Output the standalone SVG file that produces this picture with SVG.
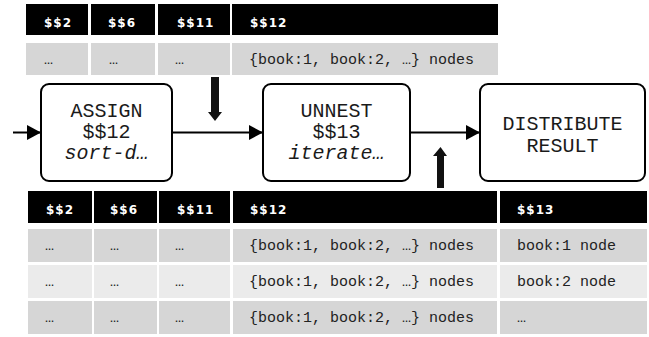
<svg xmlns="http://www.w3.org/2000/svg" width="649" height="337" viewBox="0 0 649 337">
  <style>
    .hd { fill: #000000; }
    .rowA { fill: #d6d6d6; }
    .rowB { fill: #ebebeb; }
    .hdt { font-family: "DejaVu Sans", Verdana, sans-serif; font-weight: bold; font-size: 12px; letter-spacing: 1px; fill: #ffffff; }
    .cell { font-family: "Liberation Mono", "Courier New", monospace; font-size: 15px; fill: #222222; }
    .box { fill: #ffffff; stroke: #000000; stroke-width: 2; }
    .lbl { font-family: "Liberation Mono", "Courier New", monospace; font-size: 20px; fill: #1a1a1a; text-anchor: middle; }
    .it { font-style: italic; }
    .edge { stroke: #000000; stroke-width: 2; fill: none; }
    .block { fill: #111111; }
  </style>
  <defs>
    <marker id="tri" viewBox="0 0 14 15" refX="14" refY="7.5" markerWidth="14" markerHeight="15" markerUnits="userSpaceOnUse" orient="auto">
      <path d="M0,0 L14,7.5 L0,15 Z" fill="#000000"/>
    </marker>
  </defs>

  <!-- upper table: columns before UNNEST -->
  <g id="table-top">
    <rect class="hd" x="26" y="4" width="62" height="31"/>
    <rect class="hd" x="91" y="4" width="64" height="31"/>
    <rect class="hd" x="158" y="4" width="72" height="31"/>
    <rect class="hd" x="232" y="4" width="266" height="31"/>
    <text class="hdt" x="44" y="27">$$2</text>
    <text class="hdt" x="108" y="27">$$6</text>
    <text class="hdt" x="177" y="27">$$11</text>
    <text class="hdt" x="250" y="27">$$12</text>

    <rect class="rowA" x="26" y="43" width="62" height="32"/>
    <rect class="rowA" x="91" y="43" width="64" height="32"/>
    <rect class="rowA" x="158" y="43" width="72" height="32"/>
    <rect class="rowA" x="232" y="43" width="266" height="32"/>
    <text class="cell" x="44" y="64">…</text>
    <text class="cell" x="109" y="64">…</text>
    <text class="cell" x="175" y="64">…</text>
    <text class="cell" x="249" y="64">{book:1, book:2, …} nodes</text>
  </g>

  <!-- operator nodes -->
  <g id="node-assign">
    <rect class="box" x="41" y="84" width="131" height="97" rx="8"/>
    <text class="lbl" x="106.5" y="117">ASSIGN</text>
    <text class="lbl" x="106.5" y="138">$$12</text>
    <text class="lbl it" x="106.5" y="159">sort-d…</text>
  </g>
  <g id="node-unnest">
    <rect class="box" x="263" y="84" width="147" height="97" rx="8"/>
    <text class="lbl" x="336.5" y="117">UNNEST</text>
    <text class="lbl" x="336.5" y="138">$$13</text>
    <text class="lbl it" x="336.5" y="159">iterate…</text>
  </g>
  <g id="node-distribute">
    <rect class="box" x="480" y="84" width="165" height="97" rx="8"/>
    <text class="lbl" x="562.5" y="130">DISTRIBUTE</text>
    <text class="lbl" x="562.5" y="152">RESULT</text>
  </g>

  <!-- connectors -->
  <g id="connectors">
    <line class="edge" x1="13" y1="132.5" x2="41" y2="132.5" marker-end="url(#tri)"/>
    <line class="edge" x1="172" y1="132.5" x2="263" y2="132.5" marker-end="url(#tri)"/>
    <line class="edge" x1="410" y1="132.5" x2="480" y2="132.5" marker-end="url(#tri)"/>
    <!-- data flow markers between tables and plan -->
    <path class="block" d="M211,77 H219 V112 H222 L215,121 L208,112 H211 Z"/>
    <path class="block" d="M437,188 H444 V156 H447 L440.5,147 L433,156 H437 Z"/>
  </g>

  <!-- lower table: columns after UNNEST -->
  <g id="table-bottom">
    <rect class="hd" x="28" y="191" width="64" height="32"/>
    <rect class="hd" x="94" y="191" width="63" height="32"/>
    <rect class="hd" x="159" y="191" width="71" height="32"/>
    <rect class="hd" x="233" y="191" width="264" height="32"/>
    <rect class="hd" x="500" y="191" width="147" height="32"/>
    <text class="hdt" x="46" y="214">$$2</text>
    <text class="hdt" x="110" y="214">$$6</text>
    <text class="hdt" x="177" y="214">$$11</text>
    <text class="hdt" x="250" y="214">$$12</text>
    <text class="hdt" x="517" y="214">$$13</text>

    <rect class="rowA" x="28" y="229" width="64" height="33"/>
    <rect class="rowA" x="94" y="229" width="63" height="33"/>
    <rect class="rowA" x="159" y="229" width="71" height="33"/>
    <rect class="rowA" x="233" y="229" width="264" height="33"/>
    <rect class="rowA" x="500" y="229" width="147" height="33"/>
    <text class="cell" x="45" y="250">…</text>
    <text class="cell" x="110" y="250">…</text>
    <text class="cell" x="175" y="250">…</text>
    <text class="cell" x="249" y="250">{book:1, book:2, …} nodes</text>
    <text class="cell" x="517" y="250">book:1 node</text>

    <rect class="rowB" x="28" y="265" width="64" height="33"/>
    <rect class="rowB" x="94" y="265" width="63" height="33"/>
    <rect class="rowB" x="159" y="265" width="71" height="33"/>
    <rect class="rowB" x="233" y="265" width="264" height="33"/>
    <rect class="rowB" x="500" y="265" width="147" height="33"/>
    <text class="cell" x="45" y="286">…</text>
    <text class="cell" x="110" y="286">…</text>
    <text class="cell" x="175" y="286">…</text>
    <text class="cell" x="249" y="286">{book:1, book:2, …} nodes</text>
    <text class="cell" x="517" y="286">book:2 node</text>

    <rect class="rowA" x="28" y="301" width="64" height="33"/>
    <rect class="rowA" x="94" y="301" width="63" height="33"/>
    <rect class="rowA" x="159" y="301" width="71" height="33"/>
    <rect class="rowA" x="233" y="301" width="264" height="33"/>
    <rect class="rowA" x="500" y="301" width="147" height="33"/>
    <text class="cell" x="45" y="322">…</text>
    <text class="cell" x="110" y="322">…</text>
    <text class="cell" x="175" y="322">…</text>
    <text class="cell" x="249" y="322">{book:1, book:2, …} nodes</text>
    <text class="cell" x="517" y="322">…</text>
  </g>
</svg>
